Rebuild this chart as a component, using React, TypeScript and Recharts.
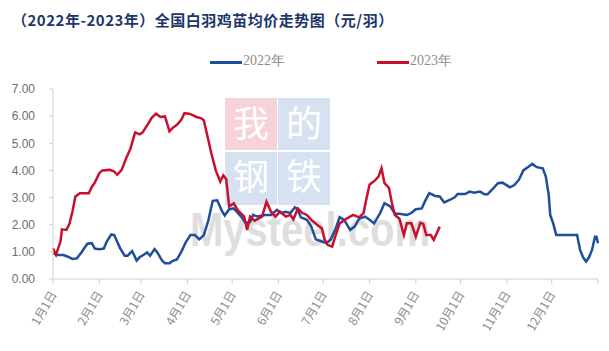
import React from "react";
import { LineChart, Line, XAxis, YAxis } from "recharts";

// day-of-year positions and prices
const days2022 = [
  0, 3, 7, 10, 13, 16, 19, 23, 26, 28, 31, 34, 36, 39, 41, 45, 48, 50, 53, 56,
  58, 61, 63, 65, 68, 70, 73, 75, 78, 80, 83, 86, 89, 92, 95, 98, 101, 104, 107,
  110, 113, 115, 118, 121, 123, 126, 129, 132, 134, 137, 142, 146, 150, 153,
  156, 159, 162, 164, 166, 170, 173, 176, 180, 183, 186, 189, 192, 195, 199,
  202, 205, 209, 212, 215, 219, 222, 226, 229, 232, 237, 240, 243, 247, 249,
  252, 256, 259, 262, 266, 269, 271, 276, 279, 282, 286, 289, 291, 295, 298,
  301, 306, 309, 312, 315, 318, 321, 324, 328, 330, 332, 333, 335, 337, 351,
  353, 355, 357, 359, 361, 363, 364, 365,
];
const price2022 = [
  0.95, 0.88, 0.88, 0.82, 0.74, 0.76, 0.98, 1.3, 1.32, 1.12, 1.1, 1.12, 1.38,
  1.64, 1.62, 1.13, 0.86, 0.86, 1.03, 0.68, 0.8, 0.9, 0.98, 0.86, 1.1, 0.97,
  0.68, 0.58, 0.58, 0.66, 0.72, 1.01, 1.36, 1.62, 1.62, 1.46, 1.62, 2.15, 2.88,
  2.9, 2.52, 2.34, 2.57, 2.6, 2.48, 2.3, 2.06, 2.1, 2.36, 2.3, 2.36, 2.36, 2.55,
  2.43, 2.48, 2.43, 2.64, 2.55, 2.27, 2.18, 1.93, 1.46, 1.38, 1.32, 1.46, 1.81,
  2.28, 2.18, 1.81, 1.93, 2.22, 2.3, 2.18, 2.05, 2.42, 2.79, 2.67, 2.4, 2.4,
  2.36, 2.43, 2.57, 2.6, 2.85, 3.16, 3.06, 3.04, 2.82, 2.92, 3.01, 3.13, 3.13,
  3.22, 3.18, 3.22, 3.12, 3.12, 3.35, 3.53, 3.55, 3.38, 3.46, 3.65, 4.0, 4.12,
  4.24, 4.12, 4.08, 3.78, 3.1, 2.36, 2.05, 1.62, 1.62, 1.07, 0.8, 0.64, 0.8,
  1.07, 1.56, 1.55, 1.32,
];

const days2023 = [
  0, 2, 5, 6, 9, 11, 13, 15, 18, 24, 26, 28, 31, 33, 38, 41, 43, 46, 49, 52, 55,
  58, 60, 64, 66, 69, 72, 75, 78, 80, 83, 86, 88, 91, 94, 96, 99, 101, 103, 106,
  109, 112, 114, 116, 118, 121, 124, 128, 130, 132, 135, 140, 143, 146, 149,
  152, 156, 159, 161, 164, 167, 170, 173, 177, 180, 182, 184, 187, 189, 192,
  196, 199, 201, 205, 208, 210, 212, 216, 218, 220, 222, 225, 227, 229, 232,
  235, 237, 240, 243, 246, 248, 250, 253, 255, 257, 259,
];
const price2023 = [
  1.13, 0.89, 1.38, 1.83, 1.81, 2.03, 2.48, 3.04, 3.16, 3.16, 3.4, 3.55, 3.9,
  4.0, 4.02, 3.96, 3.84, 4.02, 4.45, 4.82, 5.4, 5.33, 5.4, 5.74, 5.93, 6.09,
  5.97, 5.99, 5.44, 5.56, 5.68, 5.87, 6.11, 6.09, 6.03, 5.97, 5.93, 5.85, 5.37,
  4.64, 4.0, 3.59, 3.82, 3.68, 2.67, 2.79, 2.52, 2.3, 1.81, 2.3, 2.15, 2.3, 2.85,
  2.48, 2.3, 2.48, 2.3, 2.36, 2.2, 2.6, 2.43, 2.36, 2.18, 1.99, 1.87, 1.44,
  1.25, 1.19, 1.56, 2.05, 2.2, 2.3, 2.36, 2.27, 2.43, 2.98, 3.47, 3.65, 3.77,
  4.08, 3.53, 3.36, 2.79, 2.36, 2.22, 1.62, 2.05, 2.05, 1.56, 2.07, 2.03, 1.62,
  1.62, 1.44, 1.69, 1.93,
];

const monthStarts = [0, 31, 59, 90, 120, 151, 181, 212, 243, 273, 304, 334, 365];
const monthLabels = [
  "1月1日", "2月1日", "3月1日", "4月1日", "5月1日", "6月1日",
  "7月1日", "8月1日", "9月1日", "10月1日", "11月1日", "12月1日", "",
];
const yTicks = [0, 1, 2, 3, 4, 5, 6, 7];

const series2022 = days2022.map((d, i) => ({ day: d, price: price2022[i] }));
const series2023 = days2023.map((d, i) => ({ day: d, price: price2023[i] }));

const BLUE = "#1f4e9a";
const RED = "#c8102e";
const AXIS = "#d0d0d0";

function MonthTick(props: any) {
  const { x, y, payload } = props;
  const label = monthLabels[monthStarts.indexOf(payload.value)];
  if (!label) return null;
  const ax = x + 4;
  const ay = y + 4;
  return (
    <text
      x={ax}
      y={ay}
      transform={`rotate(-60 ${ax} ${ay})`}
      textAnchor="end"
      fontSize={12}
      fill="#8c8c8c"
      fontFamily="'Noto Sans CJK SC', sans-serif"
    >
      {label}
    </text>
  );
}

// faint site watermark sitting behind the lines
function Watermark() {
  const cjk = "'Noto Sans CJK SC', sans-serif";
  return (
    <svg
      width={609}
      height={351}
      style={{ position: "absolute", left: 0, top: 0 }}
    >
      <rect x={225} y={98} width={52} height={52} fill="#f7d3d8" />
      <rect x={278} y={98} width={52} height={52} fill="#d6e2f1" />
      <rect x={225} y={152} width={52} height={53} fill="#d6e2f1" />
      <rect x={278} y={152} width={52} height={53} fill="#d6e2f1" />
      <g fontFamily={cjk} fontSize={36} fill="#ffffff" textAnchor="middle">
        <text x={251} y={137}>我</text>
        <text x={304} y={137}>的</text>
        <text x={251} y={190}>钢</text>
        <text x={304} y={190}>铁</text>
      </g>
      <text
        x={190}
        y={246}
        fontSize={48}
        fontWeight={700}
        fontFamily="'Liberation Sans', sans-serif"
        fill="#dedede"
        textLength={240}
        lengthAdjust="spacingAndGlyphs"
      >
        Mysteel.com
      </text>
    </svg>
  );
}

export default function App() {
  return (
    <div
      style={{
        position: "absolute",
        left: 0,
        top: 0,
        width: 609,
        height: 351,
        background: "#ffffff",
        overflow: "hidden",
      }}
    >
      <Watermark />
      <div
        style={{
          position: "absolute",
          left: 12,
          top: 9,
          fontFamily: "'Noto Sans CJK SC', sans-serif",
          fontWeight: 700,
          fontSize: 15,
          letterSpacing: 0.5,
          color: "#1c3669",
          whiteSpace: "nowrap",
        }}
      >
        （2022年-2023年）全国白羽鸡苗均价走势图（元/羽）
      </div>
      <div
        style={{
          position: "absolute",
          top: 52,
          left: 0,
          width: 609,
          height: 20,
          fontFamily: "'Liberation Serif', serif",
          fontSize: 14,
          color: "#8c8c8c",
        }}
      >
        <div style={{ position: "absolute", left: 210, top: 9, width: 32, height: 2.5, background: BLUE }} />
        <div style={{ position: "absolute", left: 243, top: 0 }}>2022年</div>
        <div style={{ position: "absolute", left: 377, top: 9, width: 32, height: 2.5, background: RED }} />
        <div style={{ position: "absolute", left: 410, top: 0 }}>2023年</div>
      </div>
      <div style={{ position: "absolute", left: 0, top: 0 }}>
        <LineChart
          width={609}
          height={351}
          margin={{ top: 89, right: 11, bottom: 0, left: 0 }}
        >
          <XAxis
            type="number"
            dataKey="day"
            domain={[0, 365]}
            ticks={monthStarts}
            interval={0}
            height={72}
            tickSize={5}
            tickMargin={6}
            stroke={AXIS}
            tick={<MonthTick />}
            allowDuplicatedCategory={false}
          />
          <YAxis
            type="number"
            domain={[0, 7]}
            ticks={yTicks}
            width={53}
            tickSize={4}
            tickMargin={14}
            stroke={AXIS}
            tickFormatter={(v: number) => v.toFixed(2)}
            tick={{ fill: "#6e6e6e", fontSize: 12, fontFamily: "'Liberation Sans', sans-serif" }}
          />
          <Line
            data={series2022}
            dataKey="price"
            type="linear"
            stroke={BLUE}
            strokeWidth={2.5}
            dot={false}
            isAnimationActive={false}
          />
          <Line
            data={series2023}
            dataKey="price"
            type="linear"
            stroke={RED}
            strokeWidth={2.5}
            dot={false}
            isAnimationActive={false}
          />
        </LineChart>
      </div>
    </div>
  );
}
